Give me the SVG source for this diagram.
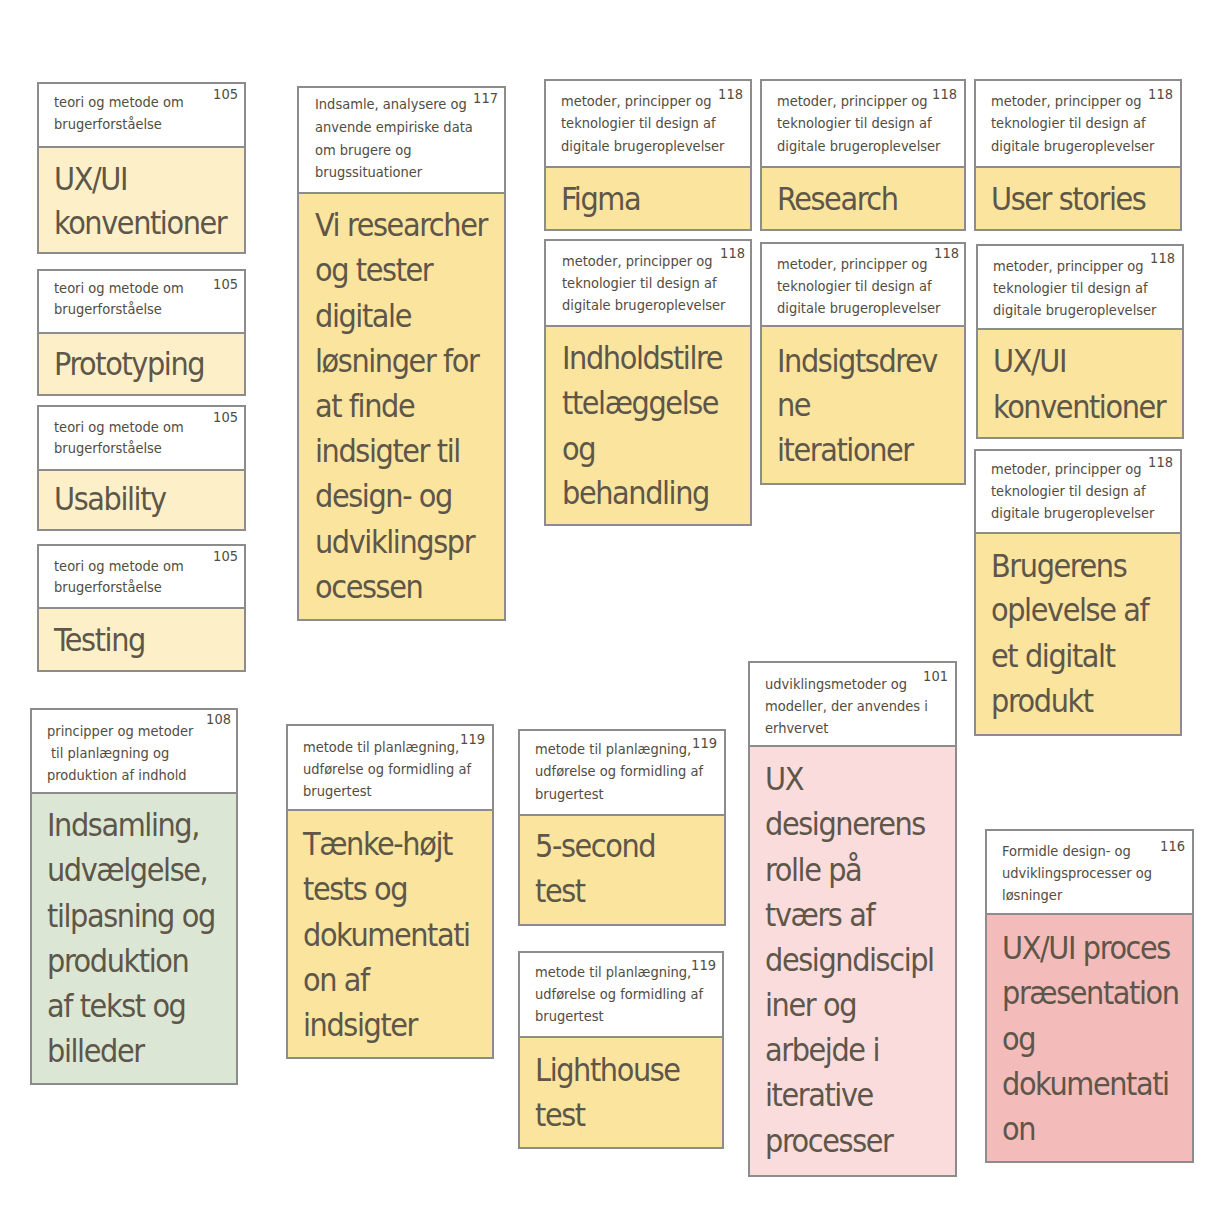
<svg xmlns="http://www.w3.org/2000/svg" width="1212" height="1216" viewBox="0 0 1212 1216">
<style>
text{font-family:"DejaVu Sans Condensed","Liberation Sans Narrow","Liberation Sans",sans-serif;fill:#5d5649}
.h{font-size:14.5px;fill:#524c42}
.n{font-size:14.5px;text-anchor:end;fill:#524c42}
.b{font-size:32px;letter-spacing:-1.4px}
rect{stroke:#8c8c8c;stroke-width:2}
.w{fill:#ffffff}
.ly{fill:#fdf0c9}
.y{fill:#fae49e}
.g{fill:#dce6d5}
.p{fill:#fadcdd}
.pp{fill:#f4bbbb}
</style>
<rect x="0" y="0" width="1212" height="1216" style="fill:#ffffff;stroke:none"/>
<g id="connectors"></g>

<g id="card-uxui-left">
<rect class="w" x="38" y="83" width="207" height="64"/>
<rect class="ly" x="38" y="147" width="207" height="106"/>
<text class="h" x="54" y="107">teori og metode om</text>
<text class="h" x="54" y="129">brugerforståelse</text>
<text class="n" x="238" y="99">105</text>
<text class="b" x="54" y="190">UX/UI</text>
<text class="b" x="54" y="234">konventioner</text>
</g>

<g id="card-prototyping">
<rect class="w" x="38" y="270" width="207" height="63"/>
<rect class="ly" x="38" y="333" width="207" height="62"/>
<text class="h" x="54" y="293">teori og metode om</text>
<text class="h" x="54" y="314">brugerforståelse</text>
<text class="n" x="238" y="289">105</text>
<text class="b" x="54" y="375">Prototyping</text>
</g>

<g id="card-usability">
<rect class="w" x="38" y="406" width="207" height="64"/>
<rect class="ly" x="38" y="470" width="207" height="60"/>
<text class="h" x="54" y="432">teori og metode om</text>
<text class="h" x="54" y="453">brugerforståelse</text>
<text class="n" x="238" y="422">105</text>
<text class="b" x="54" y="510">Usability</text>
</g>

<g id="card-testing">
<rect class="w" x="38" y="545" width="207" height="63"/>
<rect class="ly" x="38" y="608" width="207" height="63"/>
<text class="h" x="54" y="571">teori og metode om</text>
<text class="h" x="54" y="592">brugerforståelse</text>
<text class="n" x="238" y="561">105</text>
<text class="b" x="54" y="651">Testing</text>
</g>

<g id="card-vi-researcher">
<rect class="w" x="298" y="87" width="207" height="106"/>
<rect class="y" x="298" y="193" width="207" height="427"/>
<text class="h" x="315" y="109">Indsamle, analysere og</text>
<text class="h" x="315" y="132">anvende empiriske data</text>
<text class="h" x="315" y="155">om brugere og</text>
<text class="h" x="315" y="177">brugssituationer</text>
<text class="n" x="498" y="103">117</text>
<text class="b" x="315" y="236">Vi researcher</text>
<text class="b" x="315" y="281">og tester</text>
<text class="b" x="315" y="327">digitale</text>
<text class="b" x="315" y="372">løsninger for</text>
<text class="b" x="315" y="417">at finde</text>
<text class="b" x="315" y="462">indsigter til</text>
<text class="b" x="315" y="507">design- og</text>
<text class="b" x="315" y="553">udviklingspr</text>
<text class="b" x="315" y="598">ocessen</text>
</g>

<g id="card-figma">
<rect class="w" x="545" y="80" width="206" height="87"/>
<rect class="y" x="545" y="167" width="206" height="63"/>
<text class="h" x="561" y="106">metoder, principper og</text>
<text class="h" x="561" y="128">teknologier til design af</text>
<text class="h" x="561" y="151">digitale brugeroplevelser</text>
<text class="n" x="743" y="99">118</text>
<text class="b" x="561" y="210">Figma</text>
</g>

<g id="card-research">
<rect class="w" x="761" y="80" width="204" height="87"/>
<rect class="y" x="761" y="167" width="204" height="63"/>
<text class="h" x="777" y="106">metoder, principper og</text>
<text class="h" x="777" y="128">teknologier til design af</text>
<text class="h" x="777" y="151">digitale brugeroplevelser</text>
<text class="n" x="957" y="99">118</text>
<text class="b" x="777" y="210">Research</text>
</g>

<g id="card-user-stories">
<rect class="w" x="975" y="80" width="206" height="87"/>
<rect class="y" x="975" y="167" width="206" height="63"/>
<text class="h" x="991" y="106">metoder, principper og</text>
<text class="h" x="991" y="128">teknologier til design af</text>
<text class="h" x="991" y="151">digitale brugeroplevelser</text>
<text class="n" x="1173" y="99">118</text>
<text class="b" x="991" y="210">User stories</text>
</g>

<g id="card-indholdstilrettelaeggelse">
<rect class="w" x="545" y="240" width="206" height="86"/>
<rect class="y" x="545" y="326" width="206" height="199"/>
<text class="h" x="562" y="266">metoder, principper og</text>
<text class="h" x="562" y="288">teknologier til design af</text>
<text class="h" x="562" y="310">digitale brugeroplevelser</text>
<text class="n" x="745" y="258">118</text>
<text class="b" x="562" y="369">Indholdstilre</text>
<text class="b" x="562" y="414">ttelæggelse</text>
<text class="b" x="562" y="460">og</text>
<text class="b" x="562" y="504">behandling</text>
</g>

<g id="card-indsigtsdrevne">
<rect class="w" x="761" y="243" width="204" height="83"/>
<rect class="y" x="761" y="326" width="204" height="158"/>
<text class="h" x="777" y="269">metoder, principper og</text>
<text class="h" x="777" y="291">teknologier til design af</text>
<text class="h" x="777" y="313">digitale brugeroplevelser</text>
<text class="n" x="959" y="258">118</text>
<text class="b" x="777" y="372">Indsigtsdrev</text>
<text class="b" x="777" y="416">ne</text>
<text class="b" x="777" y="461">iterationer</text>
</g>

<g id="card-uxui-right">
<rect class="w" x="977" y="245" width="206" height="84"/>
<rect class="y" x="977" y="329" width="206" height="109"/>
<text class="h" x="993" y="271">metoder, principper og</text>
<text class="h" x="993" y="293">teknologier til design af</text>
<text class="h" x="993" y="315">digitale brugeroplevelser</text>
<text class="n" x="1175" y="263">118</text>
<text class="b" x="993" y="372">UX/UI</text>
<text class="b" x="993" y="418">konventioner</text>
</g>

<g id="card-brugerens">
<rect class="w" x="975" y="450" width="206" height="83"/>
<rect class="y" x="975" y="533" width="206" height="202"/>
<text class="h" x="991" y="474">metoder, principper og</text>
<text class="h" x="991" y="496">teknologier til design af</text>
<text class="h" x="991" y="518">digitale brugeroplevelser</text>
<text class="n" x="1173" y="467">118</text>
<text class="b" x="991" y="577">Brugerens</text>
<text class="b" x="991" y="621">oplevelse af</text>
<text class="b" x="991" y="667">et digitalt</text>
<text class="b" x="991" y="712">produkt</text>
</g>

<g id="card-indsamling">
<rect class="w" x="31" y="709" width="206" height="84"/>
<rect class="g" x="31" y="793" width="206" height="291"/>
<text class="h" x="47" y="736">principper og metoder</text>
<text class="h" x="51" y="758">til planlægning og</text>
<text class="h" x="47" y="780">produktion af indhold</text>
<text class="n" x="231" y="724">108</text>
<text class="b" x="47" y="836">Indsamling,</text>
<text class="b" x="47" y="881">udvælgelse,</text>
<text class="b" x="47" y="927">tilpasning og</text>
<text class="b" x="47" y="972">produktion</text>
<text class="b" x="47" y="1017">af tekst og</text>
<text class="b" x="47" y="1062">billeder</text>
</g>

<g id="card-taenke-hoejt">
<rect class="w" x="287" y="725" width="206" height="85"/>
<rect class="y" x="287" y="810" width="206" height="248"/>
<text class="h" x="303" y="752">metode til planlægning,</text>
<text class="h" x="303" y="774">udførelse og formidling af</text>
<text class="h" x="303" y="796">brugertest</text>
<text class="n" x="485" y="744">119</text>
<text class="b" x="303" y="855">Tænke-højt</text>
<text class="b" x="303" y="900">tests og</text>
<text class="b" x="303" y="946">dokumentati</text>
<text class="b" x="303" y="991">on af</text>
<text class="b" x="303" y="1036">indsigter</text>
</g>

<g id="card-5-second">
<rect class="w" x="519" y="730" width="206" height="85"/>
<rect class="y" x="519" y="815" width="206" height="110"/>
<text class="h" x="535" y="754">metode til planlægning,</text>
<text class="h" x="535" y="776">udførelse og formidling af</text>
<text class="h" x="535" y="799">brugertest</text>
<text class="n" x="717" y="748">119</text>
<text class="b" x="535" y="857">5-second</text>
<text class="b" x="535" y="902">test</text>
</g>

<g id="card-lighthouse">
<rect class="w" x="519" y="952" width="204" height="85"/>
<rect class="y" x="519" y="1037" width="204" height="111"/>
<text class="h" x="535" y="977">metode til planlægning,</text>
<text class="h" x="535" y="999">udførelse og formidling af</text>
<text class="h" x="535" y="1021">brugertest</text>
<text class="n" x="716" y="970">119</text>
<text class="b" x="535" y="1081">Lighthouse</text>
<text class="b" x="535" y="1126">test</text>
</g>

<g id="card-ux-designerens">
<rect class="w" x="749" y="662" width="207" height="84"/>
<rect class="p" x="749" y="746" width="207" height="430"/>
<text class="h" x="765" y="689">udviklingsmetoder og</text>
<text class="h" x="765" y="711">modeller, der anvendes i</text>
<text class="h" x="765" y="733">erhvervet</text>
<text class="n" x="948" y="681">101</text>
<text class="b" x="765" y="790">UX</text>
<text class="b" x="765" y="835">designerens</text>
<text class="b" x="765" y="881">rolle på</text>
<text class="b" x="765" y="926">tværs af</text>
<text class="b" x="765" y="971">designdiscipl</text>
<text class="b" x="765" y="1016">iner og</text>
<text class="b" x="765" y="1061">arbejde i</text>
<text class="b" x="765" y="1106">iterative</text>
<text class="b" x="765" y="1152">processer</text>
</g>

<g id="card-uxui-proces">
<rect class="w" x="986" y="830" width="207" height="84"/>
<rect class="pp" x="986" y="914" width="207" height="248"/>
<text class="h" x="1002" y="856">Formidle design- og</text>
<text class="h" x="1002" y="878">udviklingsprocesser og</text>
<text class="h" x="1002" y="900">løsninger</text>
<text class="n" x="1185" y="851">116</text>
<text class="b" x="1002" y="959">UX/UI proces</text>
<text class="b" x="1002" y="1004">præsentation</text>
<text class="b" x="1002" y="1050">og</text>
<text class="b" x="1002" y="1095">dokumentati</text>
<text class="b" x="1002" y="1140">on</text>
</g>
</svg>
